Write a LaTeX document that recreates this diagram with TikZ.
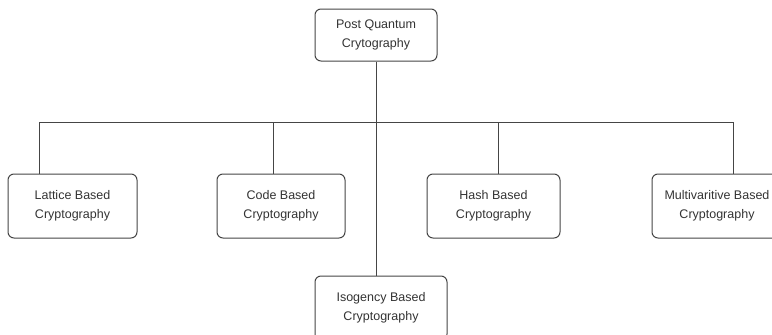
\documentclass[tikz,border=0pt]{standalone}
\usepackage{fontspec}
\setmainfont{Liberation Sans}
\definecolor{inkgray}{HTML}{333333}
\definecolor{linegray}{HTML}{454545}
\begin{document}
\begin{tikzpicture}[
  x=1pt, y=1pt,
  box/.style = {shape=rectangle, rounded corners=6pt, draw=linegray, line width=1pt,
                align=center, text=inkgray, inner sep=0pt, minimum height=64pt,
                font=\fontsize{12.5}{19}\selectfont},
  link/.style = {draw=linegray, line width=1pt}
]
  \useasboundingbox (0,0) rectangle (772,-335);
  \clip (0,0) rectangle (772,-335);

  \node[box, minimum width=122pt, minimum height=52pt] (pq) at (376,-35) {Post Quantum\\Crytography};
  \node[box, minimum width=129pt] (lat) at (72.5,-206) {Lattice Based\\Cryptography};
  \node[box, minimum width=128pt] (code) at (281,-206) {Code Based\\Cryptography};
  \node[box, minimum width=133pt] (hash) at (493.5,-206) {Hash Based\\Cryptography};
  \node[box, minimum width=130pt] (multi) at (717,-206) {Multivaritive Based\\Cryptography};
  \node[box, minimum width=132pt] (iso) at (381,-308) {Isogency Based\\Cryptography};

  \draw[link] (pq.south) -- (pq.south |- iso.north);
  \draw[link] ([xshift=-33.5pt]lat.north) -- ++(0,51) -| ([xshift=16pt]multi.north);
  \draw[link] ([xshift=-8pt]code.north) -- ++(0,51);
  \draw[link] ([xshift=4.5pt]hash.north) -- ++(0,51);
\end{tikzpicture}
\end{document}
